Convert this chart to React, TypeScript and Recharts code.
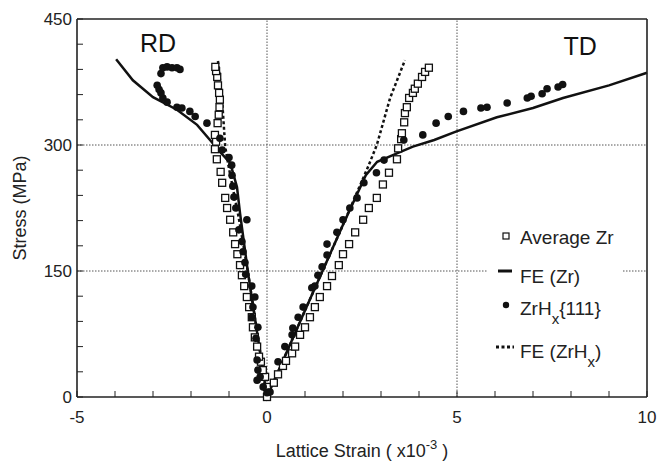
import { ComposedChart, Line, Scatter, XAxis, YAxis, ReferenceLine } from 'recharts';

type Pt = { x: number; y: number };
const pts = (a: number[][]): Pt[] => a.map(([x, y]) => ({ x, y }));

const xTicks = [-5, -4, -3, -2, -1, 0, 1, 2, 3, 4, 5, 6, 7, 8, 9, 10];
const yTicks = [0, 30, 60, 90, 120, 150, 180, 210, 240, 270, 300, 330, 360, 390, 420, 450];
const xLabelTicks = [-5, 0, 5, 10];
const yLabelTicks = [0, 150, 300, 450];
const gridX = [0, 5];
const gridY = [150, 300];

// Average Zr (open squares)
const avgZr = pts([
  [0, 0], [0, 12], [-0.05, 24], [-0.11, 32], [-0.16, 42], [-0.21, 48], [-0.26, 60], [-0.32, 71],
  [-0.37, 83], [-0.4, 95], [-0.47, 107], [-0.53, 119], [-0.6, 132], [-0.66, 145], [-0.71, 157],
  [-0.78, 170], [-0.84, 182], [-0.89, 196], [-0.97, 211], [-1.05, 225], [-1.1, 237], [-1.18, 255],
  [-1.22, 268], [-1.32, 283], [-1.37, 295], [-1.34, 304], [-1.37, 312], [-1.3, 326], [-1.27, 336],
  [-1.25, 345], [-1.24, 354], [-1.26, 362], [-1.29, 371], [-1.31, 381], [-1.34, 388], [-1.36, 393],
  [0.18, 17], [0.29, 27], [0.42, 37], [0.5, 43], [0.66, 52], [0.74, 60], [0.87, 74], [1.0, 83],
  [1.13, 95], [1.26, 107], [1.39, 119], [1.58, 132], [1.71, 144], [1.89, 157], [2.0, 170],
  [2.16, 182], [2.32, 196], [2.53, 211], [2.68, 225], [2.89, 237], [3.05, 253], [3.21, 267],
  [3.42, 283], [3.45, 296], [3.53, 307], [3.55, 314], [3.61, 327], [3.63, 338], [3.68, 345],
  [3.74, 356], [3.84, 362], [3.89, 367], [3.97, 373], [4.08, 381], [4.16, 387], [4.26, 392],
]);

// ZrHx {111} (filled circles)
const zrh = pts([
  [0.03, 6], [0, 5], [-0.1, 12], [-0.18, 24], [-0.26, 20], [-0.24, 32], [-0.26, 44], [-0.29, 70],
  [-0.24, 83], [-0.4, 95], [-0.37, 107], [-0.32, 119], [-0.4, 132], [-0.56, 146], [-0.58, 160],
  [-0.63, 173], [-0.66, 185], [-0.74, 199], [-0.53, 211], [-0.82, 225], [-0.87, 238], [-0.9, 251],
  [-0.92, 264], [-0.93, 276], [-1.0, 285], [-1.18, 294], [-1.24, 308], [-1.58, 326], [-1.89, 334],
  [-2.03, 340], [-2.24, 344], [-2.37, 345], [-2.63, 351], [-2.74, 356], [-2.79, 362], [-2.84, 366],
  [-2.89, 371], [-2.79, 385], [-2.74, 392], [-2.63, 393], [-2.5, 392], [-2.37, 392], [-2.29, 390],
  [0.08, 6], [0.29, 42], [0.47, 60], [0.66, 74], [0.68, 82], [0.82, 95], [0.95, 107], [1.18, 130],
  [1.26, 132], [1.34, 145], [1.45, 155], [1.58, 169], [1.58, 182], [1.84, 196], [2.0, 211],
  [2.18, 225], [2.37, 237], [2.55, 255], [2.88, 267], [3.08, 282], [3.6, 306], [4.1, 312],
  [4.45, 326], [4.77, 334], [5.17, 340], [5.63, 344], [5.79, 345], [6.32, 350], [6.85, 356],
  [6.95, 358], [7.24, 361], [7.37, 367], [7.66, 369], [7.78, 372],
]);

// FE (Zr) solid line, RD branch -> origin -> TD branch
const feZr = pts([
  [-3.97, 402], [-3.53, 377], [-3.0, 357], [-2.37, 342], [-1.84, 324], [-1.5, 306], [-1.22, 291],
  [-0.97, 279], [-0.79, 250], [-0.71, 219], [-0.5, 148], [-0.25, 74], [0, 0], [1, 103], [2, 205],
  [2.6, 264], [2.9, 280], [3.42, 290], [3.84, 298], [4.4, 306], [4.97, 316], [6.05, 333], [7, 344],
  [7.79, 356], [9, 371], [10, 386],
]);

// FE (ZrHx) dotted line
const feZrH = pts([
  [-1.29, 400], [-1.18, 353], [-1.1, 298], [-1.0, 272], [-0.75, 215], [-0.5, 148], [0, 0],
  [1, 103], [2, 205], [2.66, 274], [2.89, 300], [3.24, 356], [3.63, 401],
]);

const annotations = [
  { x: -2.87, y: 411, text: 'RD' },
  { x: 8.24, y: 407, text: 'TD' },
];

const FONT = '"Liberation Sans", Arial, sans-serif';
const INK = '#111';

const Square = (p: any) => (
  <rect x={p.cx - 3.5} y={p.cy - 3.5} width={7} height={7} fill="#fff" stroke={INK} strokeWidth={1.3} />
);
const Dot = (p: any) => <circle cx={p.cx} cy={p.cy} r={3.8} fill={INK} />;
const Note = (p: any) => (
  <text x={p.cx} y={p.cy} textAnchor="middle" fontFamily={FONT} fontSize={25} fill={INK}>
    {p.payload.text}
  </text>
);

const NoLabel = () => <g />;

const XTick = (p: any) => {
  const v = p.payload.value;
  if (!xLabelTicks.includes(v)) return <g />;
  return (
    <text x={p.x} y={p.y + 30} textAnchor="middle" fontFamily={FONT} fontSize={17} fill="#222">
      {v}
    </text>
  );
};

const YTick = (p: any) => {
  const v = p.payload.value;
  if (!yLabelTicks.includes(v)) return <g />;
  return (
    <text x={p.x - 9} y={p.y + 6} textAnchor="end" fontFamily={FONT} fontSize={17} fill="#222">
      {v}
    </text>
  );
};

const XTitle = (p: any) => {
  const vb = p.viewBox;
  return (
    <text x={vb.x + vb.width / 2} y={vb.y + 60} textAnchor="middle" fontFamily={FONT} fontSize={18} fill="#222">
      Lattice Strain ( x10
      <tspan fontSize={13} dy={-8}>-3</tspan>
      <tspan dy={8}> )</tspan>
    </text>
  );
};

const YTitle = (p: any) => {
  const vb = p.viewBox;
  const cx = 20;
  const cy = vb.y + vb.height / 2;
  return (
    <text
      x={cx}
      y={cy}
      transform={`rotate(-90, ${cx}, ${cy})`}
      textAnchor="middle"
      dominantBaseline="central"
      fontFamily={FONT}
      fontSize={18}
      fill="#222"
    >
      Stress (MPa)
    </text>
  );
};

// legend drawn as an overlay box (white, covers the grid line like the original)
const LegendBox = () => (
  <svg width={134} height={152} style={{ display: 'block' }}>
    <rect x={0} y={0} width={134} height={152} fill="#fff" />
    <g fontFamily={FONT} fontSize={19} fill="#222">
      <rect x={15} y={13} width={6} height={6} fill="#fff" stroke={INK} strokeWidth={1.2} />
      <text x={32} y={24}>Average Zr</text>

      <line x1={10} x2={24} y1={51} y2={51} stroke={INK} strokeWidth={3} />
      <text x={32} y={63}>FE (Zr)</text>

      <circle cx={18} cy={85} r={3.2} fill={INK} />
      <text x={32} y={95}>
        ZrH<tspan fontSize={15} dy={9}>x</tspan>
        <tspan dy={-9}>{'{111}'}</tspan>
      </text>

      <line x1={8} x2={26} y1={127} y2={127} stroke={INK} strokeWidth={3} strokeDasharray="3 2.5" />
      <text x={32} y={138}>
        FE (ZrH<tspan fontSize={15} dy={9}>x</tspan>
        <tspan dy={-9}>)</tspan>
      </text>
    </g>
  </svg>
);

const axisLine = { stroke: '#222', strokeWidth: 1.6 };
const tickLine = { stroke: '#222' };

export default function App() {
  return (
    <div style={{ position: 'absolute', left: 0, top: 0, width: 657, height: 463, background: '#fff' }}>
      <ComposedChart width={657} height={463} margin={{ top: 18, right: 9, left: 27, bottom: 0 }}>
        <XAxis
          dataKey="x"
          type="number"
          domain={[-5, 10]}
          ticks={xTicks}
          interval={0}
          height={66}
          tickSize={-6}
          tick={<XTick />}
          axisLine={axisLine}
          tickLine={tickLine}
          label={<XTitle />}
        />
        <XAxis
          xAxisId="top"
          orientation="top"
          type="number"
          domain={[-5, 10]}
          ticks={xTicks}
          interval={0}
          height={1}
          tickSize={-6}
          tick={<NoLabel />}
          axisLine={axisLine}
          tickLine={tickLine}
        />
        <YAxis
          dataKey="y"
          type="number"
          domain={[0, 450]}
          ticks={yTicks}
          interval={0}
          width={50}
          tickSize={-6}
          tick={<YTick />}
          axisLine={axisLine}
          tickLine={tickLine}
          label={<YTitle />}
        />
        <YAxis
          yAxisId="right"
          orientation="right"
          type="number"
          domain={[0, 450]}
          ticks={yTicks}
          interval={0}
          width={1}
          tickSize={-6}
          tick={<NoLabel />}
          axisLine={axisLine}
          tickLine={tickLine}
        />

        {gridX.map((v) => (
          <ReferenceLine key={`gx${v}`} x={v} stroke="#555" strokeDasharray="1.5 1.5" />
        ))}
        {gridY.map((v) => (
          <ReferenceLine key={`gy${v}`} y={v} stroke="#555" strokeDasharray="1.5 1.5" />
        ))}

        <Line data={feZr} dataKey="y" stroke={INK} strokeWidth={2.5} dot={false} isAnimationActive={false} />
        <Line
          data={feZrH}
          dataKey="y"
          stroke={INK}
          strokeWidth={2.5}
          strokeDasharray="3 2.5"
          dot={false}
          isAnimationActive={false}
        />
        <Scatter data={avgZr} dataKey="y" shape={<Square />} isAnimationActive={false} />
        <Scatter data={zrh} dataKey="y" shape={<Dot />} isAnimationActive={false} />
        <Scatter data={annotations} dataKey="y" shape={<Note />} isAnimationActive={false} />
      </ComposedChart>
      <div style={{ position: 'absolute', left: 488, top: 220 }}>
        <LegendBox />
      </div>
    </div>
  );
}
